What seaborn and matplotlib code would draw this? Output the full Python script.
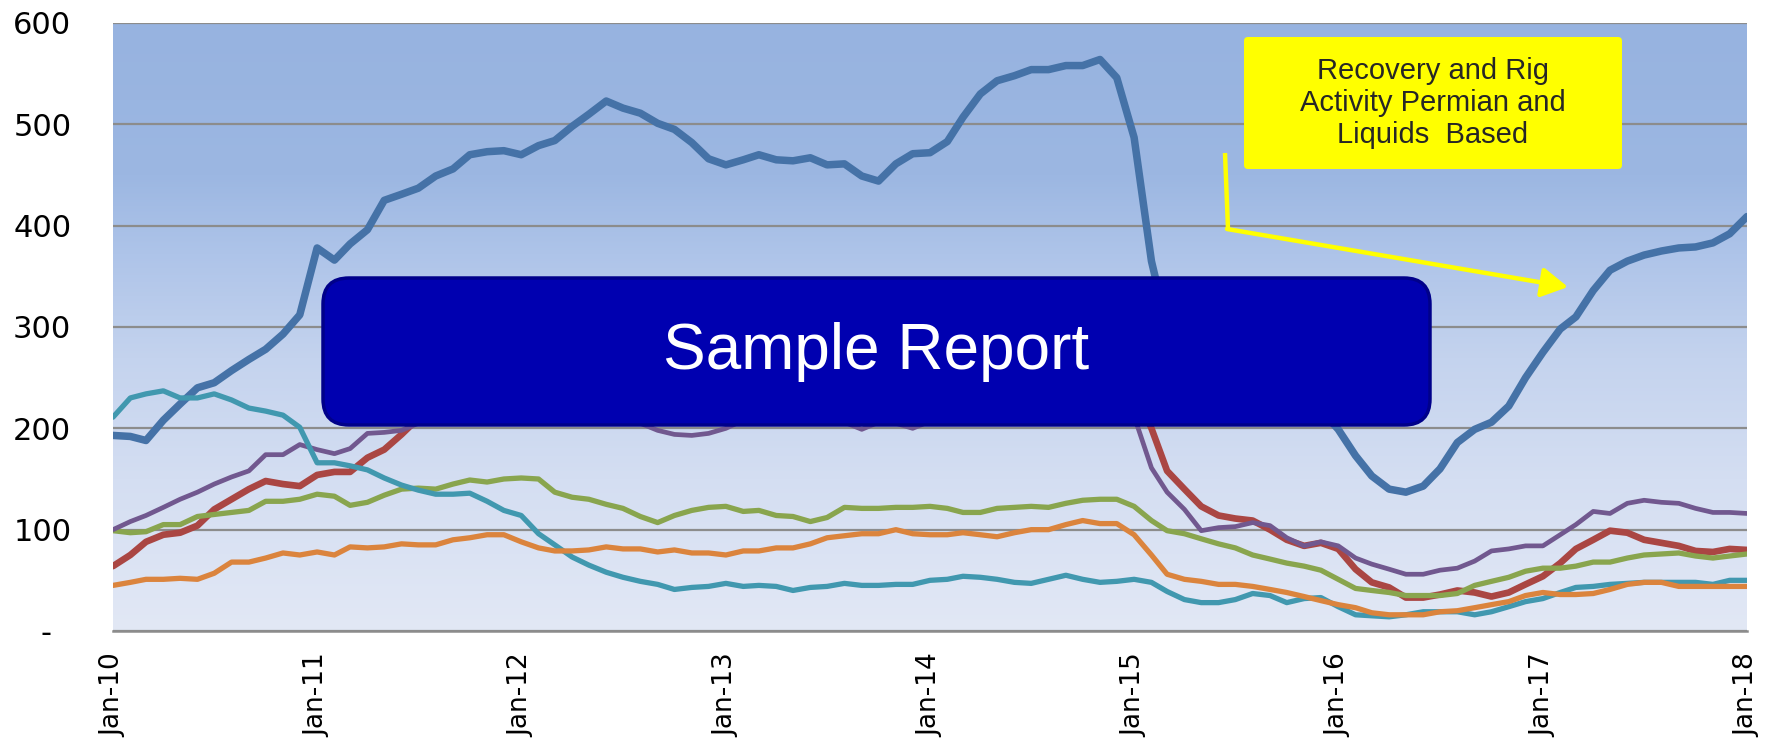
import numpy as np
import pandas as pd
import matplotlib
matplotlib.use("Agg")
import matplotlib.pyplot as plt
import matplotlib.dates as mdates
from matplotlib.colors import LinearSegmentedColormap
from matplotlib.patches import FancyBboxPatch, FancyArrowPatch
from matplotlib.lines import Line2D
from matplotlib.transforms import IdentityTransform
import seaborn as sns

# monthly rig counts, Jan-10 .. Jan-18
months = pd.date_range("2010-01-01", periods=97, freq="MS")

blue = [193,192,188,208,224,240,245,257,268,278,293,312,378,366,382,396,425,431,
        437,449,456,470,473,474,470,479,484,498,510,523,516,511,501,495,482,466,460,465,470,465,464,467,
        460,461,449,444,461,471,472,483,507,530,543,548,554,554,558,558,564,546,487,365,
        300,265,250,245,250,255,255,245,232,218,
        199,173,153,140,137,143,160,186,199,206,222,250,275,
        298,310,336,356,365,371,375,378,379,383,392,409]
red = [64,75,88,95,97,104,120,130,140,148,145,143,154,157,157,171,179,194,
       210,218,225,232,238,242,245,248,250,252,250,248,246,244,242,240,238,236,236,238,
       240,242,244,246,248,250,252,254,255,256,258,260,262,262,260,258,256,254,252,250,248,245,240,
       200,158,140,123,114,111,109,100,90,84,87,81,61,48,43,33,33,36,40,38,
       34,38,46,54,67,81,90,99,97,90,87,84,79,78,81,80]
green = [99,97,98,105,105,113,115,117,119,128,128,130,135,133,124,127,134,140,
         141,140,145,149,147,150,151,150,137,132,130,125,121,113,107,114,119,122,
         123,118,119,114,113,108,112,122,121,121,122,122,123,121,117,117,121,122,123,122,126,129,130,130,123,
         109,99,96,91,86,82,75,71,67,64,60,51,42,40,38,35,35,35,37,45,
         49,53,59,62,62,64,68,68,72,75,76,77,74,72,74,76]
purple = [100,108,114,122,130,137,145,152,158,174,174,184,179,175,180,195,196,198,
          205,212,220,228,232,238,240,236,230,225,220,215,210,205,198,194,193,195,200,
          208,215,218,214,210,206,206,199,206,205,200,207,
          210,214,216,218,220,222,222,224,225,225,222,212,
          161,137,120,99,102,103,107,104,92,84,88,84,72,66,61,56,56,60,62,69,
          79,81,84,84,95,105,118,116,126,129,127,126,121,117,117,116]
teal = [211,230,234,237,230,230,234,228,220,217,213,201,166,166,163,159,151,144,
        139,135,135,136,128,119,114,96,85,73,65,58,53,49,46,41,43,44,
        47,44,45,44,40,43,44,47,45,45,46,46,50,51,54,53,51,48,47,51,55,51,48,49,51,
        48,39,31,28,28,31,37,35,28,32,33,24,16,15,14,16,19,19,19,16,
        19,24,29,32,38,43,44,46,47,48,48,48,48,46,50,50]
orange = [45,48,51,51,52,51,57,68,68,72,77,75,78,75,83,82,83,86,
          85,85,90,92,95,95,88,82,79,79,80,83,81,81,78,80,77,77,
          75,79,79,82,82,86,92,94,96,96,100,96,95,95,97,95,93,97,100,100,105,109,106,106,95,
          75,56,51,49,46,46,44,41,38,34,30,26,23,18,16,16,16,19,20,23,
          26,29,35,38,36,36,37,41,46,48,48,44,44,44,44,44]

series = [blue, red, green, purple, teal, orange]
colors = ["#4572A7", "#AA4643", "#89A54E", "#71588F", "#4198AF", "#DB843D"]
widths = [5.4, 4.8, 3.8, 3.4, 3.8, 3.8]

yticks = [0, 100, 200, 300, 400, 500, 600]
ytick_labels = ["-  ", "100", "200", "300", "400", "500", "600"]

note_text = "Recovery and Rig\nActivity Permian and\nLiquids  Based"
banner_text = "Sample Report"

sns.set_style("white")
plt.rcParams["font.family"] = ["DejaVu Sans"]

fig = plt.figure(figsize=(17.77, 7.38), dpi=100)
pos = [113/1777, 1 - 631/738, (1747-113)/1777, (631-23)/738]

# gradient plot area
bg = fig.add_axes(pos, zorder=0)
grad = np.linspace(0, 1, 256).reshape(-1, 1)
cmap = LinearSegmentedColormap.from_list("bg", [(0, "#E2E8F5"), (0.25, "#D4DEF2"), (0.45, "#C4D3EE"),
                                                (0.62, "#AEC4E9"), (0.75, "#9CB7E2"), (1, "#97B3E0")])
bg.imshow(grad, aspect="auto", cmap=cmap, origin="lower", extent=[0, 1, 0, 1])
bg.axis("off")

ax = fig.add_axes(pos, zorder=1)
ax.patch.set_alpha(0)
for vals, c, lw in zip(series, colors, widths):
    sns.lineplot(x=months, y=vals, ax=ax, color=c, linewidth=lw,
                 solid_joinstyle="round", solid_capstyle="round")

ax.set_xlim(months[0], months[-1])
ax.set_ylim(0, 600)
ax.set_yticks(yticks)
ax.set_yticklabels(ytick_labels)
ax.yaxis.grid(True, color="#8C8C8C", linewidth=1.6)
ax.set_axisbelow(True)
ax.xaxis.set_major_locator(mdates.MonthLocator(bymonth=1))
ax.xaxis.set_minor_locator(mdates.MonthLocator(bymonth=7))
ax.xaxis.set_major_formatter(mdates.DateFormatter("%b-%y"))
ax.tick_params(axis="x", which="both", direction="in", length=7, width=1.5, color="#8C8C8C",
               labelsize=19, pad=16, labelrotation=90, labelcolor="black")
ax.tick_params(axis="y", length=0, labelsize=22, pad=30, labelcolor="black")
for s in ["left", "right", "top"]:
    ax.spines[s].set_visible(False)
ax.spines["bottom"].set_color("#8C8C8C")
ax.spines["bottom"].set_linewidth(1.8)
ax.set_xlabel("")
ax.set_ylabel("")

# banner
px = IdentityTransform()
banner = FancyBboxPatch((323, 313), 1107, 147, boxstyle="round,pad=0,rounding_size=26",
                        facecolor="#0000B0", edgecolor="#00008A", linewidth=2.5, transform=px, zorder=5)
fig.add_artist(banner)
fig.text(876/1777, 386/738, banner_text, ha="center", va="center", color="white",
         fontsize=46, family=["Liberation Sans", "DejaVu Sans"], zorder=6)

# yellow callout
note = FancyBboxPatch((1244, 569), 378, 132, boxstyle="round,pad=0,rounding_size=4",
                      facecolor="#FFFF00", edgecolor="none", transform=px, zorder=5)
fig.add_artist(note)
fig.text(1433/1777, 635/738, note_text, ha="center", va="center", color="#262626",
         fontsize=21, linespacing=1.2, family=["Liberation Sans", "DejaVu Sans"], zorder=6)
fig.add_artist(Line2D([1225, 1228], [585, 509], color="#FFFF00", linewidth=3.2,
                      transform=px, zorder=5, solid_capstyle="butt"))
fig.add_artist(FancyArrowPatch((1227, 509), (1568, 451), arrowstyle="-|>,head_length=0.8,head_width=0.45",
                               mutation_scale=20, color="#FFFF00", linewidth=3.2, transform=px,
                               zorder=5, shrinkA=0, shrinkB=0))

fig.savefig("out.png", dpi=100)
